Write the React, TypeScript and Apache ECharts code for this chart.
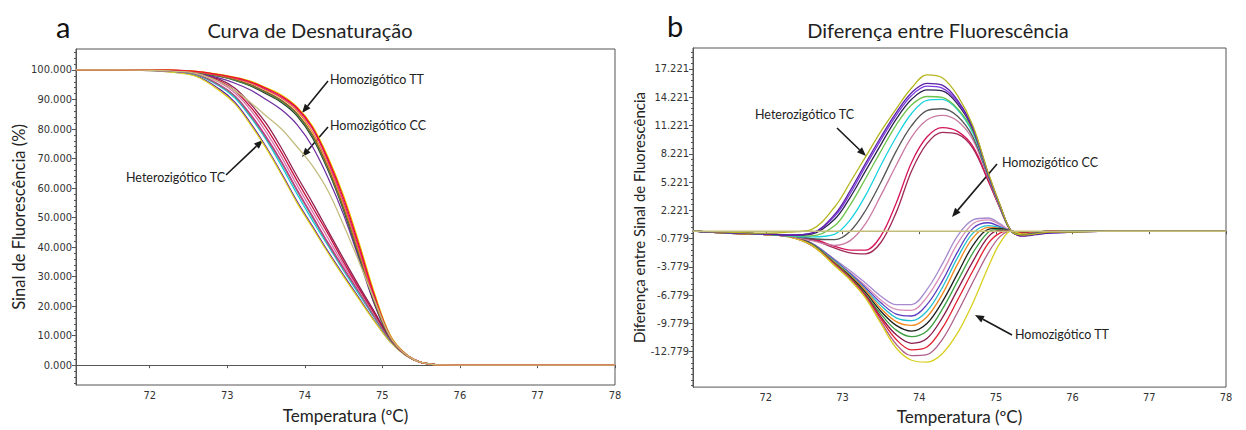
import React, { useEffect, useRef } from "react";
import * as echarts from "echarts";

// ---------- axis ticks ----------
const X_TICKS = [72, 73, 74, 75, 76, 77, 78];
const LEFT_Y_TICKS = [0, 10, 20, 30, 40, 50, 60, 70, 80, 90, 100];
const RIGHT_Y_TICKS = [17.221, 14.221, 11.221, 8.221, 5.221, 2.221, -0.779, -3.779, -6.779, -9.779, -12.779];

// ---------- panel a: melting curves (Sinal de Fluorescência %) ----------
const TEMPS_A = [71.05, 71.6, 72.0, 72.3, 72.6, 72.9, 73.1, 73.3, 73.5, 73.7, 73.9, 74.1, 74.3, 74.5, 74.7, 74.9, 75.1, 75.3, 75.5, 75.8, 76.5, 78.0];

const HET_1 = [100, 100, 99.8, 99.3, 98.0, 93.5, 89.0, 82.0, 74.0, 65.0, 55.5, 47.0, 38.5, 30.5, 22.7, 15.0, 8.0, 3.4, 0.9, 0.1, 0, 0];
const HET_2 = [100, 100, 99.8, 99.2, 97.8, 93.0, 88.5, 81.5, 73.5, 64.5, 55.0, 46.5, 38.0, 30.0, 22.3, 14.8, 7.9, 3.3, 0.9, 0.1, 0, 0];
const HET_3 = [100, 100, 99.9, 99.5, 98.4, 94.5, 90.5, 84.0, 76.5, 67.5, 58.0, 49.0, 40.5, 32.0, 24.0, 16.0, 8.4, 3.5, 1.0, 0.1, 0, 0];
const HET_4 = [100, 100, 99.9, 99.6, 98.6, 95.0, 91.2, 85.0, 77.5, 69.0, 59.5, 50.5, 41.5, 33.0, 24.8, 16.5, 8.6, 3.5, 1.0, 0.1, 0, 0];
const HET_5 = [100, 100, 99.9, 99.6, 98.8, 95.8, 92.2, 86.5, 79.0, 70.5, 61.0, 52.0, 43.0, 34.0, 25.5, 17.0, 8.8, 3.6, 1.0, 0.1, 0, 0];
const HET_6 = [100, 100, 99.9, 99.7, 99.0, 96.3, 93.0, 87.5, 80.5, 72.0, 62.5, 53.5, 44.5, 35.0, 26.0, 17.5, 9.0, 3.6, 1.0, 0.1, 0, 0];
const HET_7 = [100, 100, 99.9, 99.7, 99.1, 96.8, 93.8, 88.5, 82.0, 73.5, 64.0, 55.0, 45.5, 36.0, 26.8, 18.0, 9.2, 3.7, 1.0, 0.1, 0, 0];
const HET_8 = [100, 100, 99.9, 99.6, 98.5, 94.8, 91.0, 84.5, 77.0, 68.5, 59.0, 50.0, 41.0, 32.5, 24.5, 16.2, 8.5, 3.5, 1.0, 0.1, 0, 0];

const TT_1 = [100, 100, 100, 99.9, 99.5, 98.4, 97.4, 96.0, 93.8, 91.2, 87.2, 80.5, 69.8, 56.6, 40.5, 23.5, 10.0, 3.8, 1.0, 0.1, 0, 0];
const TT_2 = [100, 100, 100, 99.9, 99.4, 98.2, 97.1, 95.5, 93.2, 90.4, 86.2, 79.0, 68.0, 54.5, 38.5, 22.0, 9.6, 3.7, 1.0, 0.1, 0, 0];
const TT_3 = [100, 100, 100, 99.9, 99.5, 98.5, 97.5, 96.2, 94.0, 91.5, 87.5, 81.0, 70.5, 57.5, 41.5, 24.3, 10.3, 3.9, 1.0, 0.1, 0, 0];
const TT_4 = [100, 100, 100, 99.8, 99.2, 97.8, 96.5, 94.6, 92.0, 89.0, 84.5, 77.0, 66.0, 52.5, 37.0, 21.0, 9.3, 3.7, 1.0, 0.1, 0, 0];
const TT_5 = [100, 100, 100, 99.8, 99.3, 98.0, 96.8, 95.0, 92.6, 89.7, 85.3, 78.0, 67.0, 53.5, 37.8, 21.5, 9.5, 3.7, 1.0, 0.1, 0, 0];
const TT_6 = [100, 100, 99.9, 99.7, 99.0, 97.2, 95.5, 93.2, 90.0, 86.5, 81.5, 74.0, 63.5, 51.0, 36.0, 20.5, 9.2, 3.6, 1.0, 0.1, 0, 0];
const TT_7 = [100, 100, 100, 99.9, 99.4, 98.3, 97.2, 95.8, 93.5, 90.8, 86.8, 80.0, 69.0, 55.5, 39.5, 22.8, 9.8, 3.8, 1.0, 0.1, 0, 0];
const TT_8 = [100, 100, 100, 99.8, 99.3, 97.9, 96.6, 94.8, 92.3, 89.3, 84.9, 77.5, 66.5, 53.0, 37.4, 21.3, 9.4, 3.7, 1.0, 0.1, 0, 0];

const CC_1 = [100, 100, 99.9, 99.6, 98.8, 96.0, 93.0, 89.0, 84.5, 80.0, 74.0, 67.5, 59.0, 47.5, 35.0, 22.0, 9.8, 3.7, 1.0, 0.1, 0, 0];

const SERIES_A = [HET_1, HET_2, HET_3, HET_4, HET_5, HET_6, HET_7, HET_8, TT_6, TT_4, TT_8, TT_5, TT_2, TT_7, TT_3, TT_1, CC_1];
const COLORS_A = [
  "#5b1fa8", "#e0d020", "#10d0dc", "#e0108a", "#d478aa", "#c81040", "#902050", "#8a6f7c",
  "#7030a0", "#2b2b2b", "#3f9f4a", "#8b5a2b", "#f08a20", "#e0208a", "#e8d400", "#e8102a",
  "#c4bd80",
];

// ---------- panel b: difference curves ----------
const TEMPS_B = [71.05, 71.5, 72.0, 72.3, 72.6, 72.9, 73.1, 73.3, 73.5, 73.7, 73.9, 74.1, 74.3, 74.5, 74.7, 74.9, 75.05, 75.2, 75.35, 75.5, 75.7, 76.0, 76.5, 77.0, 77.5, 78.0];

const POS_1 = [0, -0.1, -0.2, -0.1, 0.2, 2.6, 5.2, 7.9, 10.6, 13.0, 15.2, 16.6, 16.3, 14.4, 11.2, 6.2, 2.9, 0, -0.4, -0.3, -0.1, -0.1, 0, 0, 0, 0];
const POS_2 = [0, -0.15, -0.3, -0.4, -0.2, 1.8, 4.3, 7.2, 10.0, 12.6, 14.7, 15.7, 15.5, 13.9, 11.0, 6.1, 2.8, 0, -0.5, -0.4, -0.2, -0.1, 0, 0, 0, 0];
const POS_3 = [0, -0.15, -0.3, -0.4, -0.2, 1.6, 4.0, 6.9, 9.7, 12.3, 14.4, 15.4, 15.2, 13.7, 10.9, 6.0, 2.8, 0, -0.5, -0.3, -0.2, -0.1, 0, 0, 0, 0];
const POS_4 = [0, -0.15, -0.3, -0.45, -0.3, 1.3, 3.6, 6.4, 9.2, 11.9, 14.0, 15.0, 14.9, 13.5, 10.8, 6.0, 2.8, 0, -0.4, -0.3, -0.1, 0, 0, 0, 0, 0];
const POS_5 = [0, -0.15, -0.3, -0.5, -0.5, 0.6, 2.8, 5.6, 8.5, 11.3, 13.4, 14.3, 14.2, 13.0, 10.6, 5.9, 2.7, 0, -0.4, -0.3, -0.1, 0, 0, 0, 0, 0];
const POS_6 = [0, -0.15, -0.3, -0.5, -0.6, -0.3, 1.2, 3.8, 7.0, 10.0, 12.5, 13.9, 14.0, 12.9, 10.4, 5.9, 2.7, 0, -0.4, -0.3, -0.1, 0, 0, 0, 0, 0];
const POS_7 = [0, -0.15, -0.3, -0.5, -0.8, -0.9, 0.0, 2.2, 5.2, 8.5, 11.2, 12.8, 13.0, 12.2, 10.0, 5.8, 2.7, 0, -0.4, -0.2, -0.1, 0, 0, 0, 0, 0];
const POS_8 = [0, -0.15, -0.3, -0.55, -1.0, -1.5, -1.0, 0.8, 3.8, 7.0, 10.0, 11.8, 12.3, 11.7, 9.7, 5.7, 2.6, 0, -0.4, -0.2, -0.1, 0, 0, 0, 0, 0];
const POS_9 = [0, -0.15, -0.3, -0.55, -0.8, -1.6, -2.0, -2.0, -0.5, 3.0, 7.3, 10.0, 11.0, 10.6, 9.0, 5.4, 2.5, 0, -0.5, -0.3, -0.1, 0, 0, 0, 0, 0];
const POS_10 = [0, -0.15, -0.3, -0.55, -0.9, -1.8, -2.3, -2.4, -1.2, 2.0, 6.4, 9.3, 10.5, 10.3, 8.8, 5.3, 2.5, 0, -0.5, -0.3, -0.1, 0, 0, 0, 0, 0];

const NEG_1 = [0, -0.2, -0.3, -0.5, -1.3, -3.0, -4.2, -5.5, -6.9, -7.8, -7.8, -6.2, -3.5, -0.5, 1.2, 1.4, 0.8, 0, -0.2, -0.1, 0, 0, 0, 0, 0, 0];
const NEG_2 = [0, -0.2, -0.3, -0.5, -1.3, -3.1, -4.4, -5.8, -7.3, -8.3, -8.4, -7.0, -4.4, -1.3, 0.8, 1.2, 0.7, 0, -0.2, -0.1, 0, 0, 0, 0, 0, 0];
const NEG_3 = [0, -0.2, -0.3, -0.5, -1.3, -3.1, -4.5, -6.0, -7.6, -8.8, -9.0, -7.8, -5.3, -2.2, 0.3, 0.9, 0.5, 0, -0.2, -0.1, 0, 0, 0, 0, 0, 0];
const NEG_4 = [0, -0.2, -0.3, -0.5, -1.4, -3.2, -4.6, -6.2, -7.9, -9.2, -9.5, -8.5, -6.0, -2.8, -0.2, 0.6, 0.4, 0, -0.2, -0.1, 0, 0, 0, 0, 0, 0];
const NEG_5 = [0, -0.2, -0.3, -0.5, -1.4, -3.3, -4.7, -6.3, -8.2, -9.6, -10.0, -9.1, -6.7, -3.5, -0.7, 0.4, 0.3, 0, -0.2, -0.1, 0, 0, 0, 0, 0, 0];
const NEG_6 = [0, -0.2, -0.35, -0.5, -1.4, -3.4, -4.8, -6.5, -8.5, -10.0, -10.6, -9.8, -7.5, -4.5, -1.5, 0.2, 0.3, 0, -0.2, -0.1, 0, 0, 0, 0, 0, 0];
const NEG_7 = [0, -0.2, -0.35, -0.55, -1.4, -3.4, -4.9, -6.7, -8.8, -10.5, -11.2, -10.6, -8.3, -5.3, -2.3, -0.1, 0.2, 0, -0.2, -0.1, 0, 0, 0, 0, 0, 0];
const NEG_8 = [0, -0.2, -0.35, -0.55, -1.5, -3.5, -5.0, -6.8, -9.1, -11.0, -11.9, -11.4, -9.2, -6.2, -3.2, -0.6, 0.1, 0, -0.2, -0.1, 0, 0, 0, 0, 0, 0];
const NEG_9 = [0, -0.2, -0.35, -0.55, -1.5, -3.5, -5.0, -6.9, -9.3, -11.5, -12.6, -12.3, -10.3, -7.3, -4.2, -1.3, -0.2, 0, -0.2, -0.1, 0, 0, 0, 0, 0, 0];
const NEG_10 = [0, -0.2, -0.35, -0.6, -1.5, -3.6, -5.1, -7.0, -9.6, -12.0, -13.2, -13.1, -11.5, -8.6, -5.4, -2.3, -0.6, 0, -0.3, -0.2, -0.1, 0, 0, 0, 0, 0];
const NEG_11 = [0, -0.2, -0.35, -0.6, -1.5, -3.7, -5.2, -7.1, -9.8, -12.4, -13.7, -13.9, -13.0, -10.8, -7.6, -3.8, -1.3, 0, -0.3, -0.2, -0.1, 0, 0, 0, 0, 0];

const REF_TEMPS = [71.05, 78.0];
const REF_DIFF = [0, 0];

const SERIES_B = [
  NEG_1, NEG_2, NEG_3, NEG_4, NEG_5, NEG_6, NEG_7, NEG_8, NEG_9, NEG_10, NEG_11,
  POS_10, POS_9, POS_8, POS_7, POS_6, POS_5, POS_4, POS_3, POS_2, POS_1,
];
const COLORS_B = [
  "#a58ad0", "#d890b8", "#5a3cc0", "#20c0d0", "#f08a20", "#1e1e1e", "#3da043", "#8a1c4a", "#e02030", "#b0608a", "#d8cf1c",
  "#9e2a55", "#d4145a", "#c97aa3", "#555555", "#19d3e0", "#6cc24a", "#2b2250", "#7d3ce0", "#5b1fa8", "#b5b51e",
];

// ---------- helpers ----------
const NARROW = "'Liberation Sans Narrow', 'Arial Narrow', 'DejaVu Sans Condensed', sans-serif";
const HUMAN = "Lato, 'Open Sans', sans-serif";

const pairs = (xs: number[], ys: number[]) => xs.map((x, i) => [x, ys[i]]);

function minorTicks(majors: number[], step: number, min: number, max: number) {
  const base = majors[0];
  const out: number[] = [];
  const kMin = Math.ceil((min - base) / step);
  const kMax = Math.floor((max - base) / step);
  for (let k = kMin; k <= kMax; k++) out.push(+(base + k * step).toFixed(4));
  return out;
}

function arrow(x1: number, y1: number, x2: number, y2: number) {
  const ang = Math.atan2(y2 - y1, x2 - x1);
  const L = 9, W = 3.6;
  const bx = x2 - L * Math.cos(ang), by = y2 - L * Math.sin(ang);
  const px = -Math.sin(ang) * W, py = Math.cos(ang) * W;
  return [
    { type: "line", shape: { x1, y1, x2: bx, y2: by }, style: { stroke: "#1a1a1a", lineWidth: 1.6 }, silent: true },
    {
      type: "polygon",
      shape: { points: [[x2, y2], [bx + px, by + py], [bx - px, by - py]] },
      style: { fill: "#1a1a1a" },
      silent: true,
    },
  ];
}

function label(text: string, x: number, y: number, size = 12.5, extra: any = {}) {
  return {
    type: "text",
    x,
    y,
    style: { text, font: `${size}px ${HUMAN}`, fill: "#222", verticalAlign: "middle", align: "left", ...extra },
    silent: true,
  };
}

export default function App() {
  const ref = useRef<HTMLDivElement>(null);

  useEffect(() => {
    if (!ref.current) return;
    const chart = echarts.init(ref.current, null, { renderer: "svg" });

    const A_MIN = -6.7, A_MAX = 107.1;
    const B_MIN = -16.55, B_MAX = 19.45;
    const X_MIN = 71.05, X_MAX = 78.0;

    const axisLineStyle = { color: "#555", width: 1 };
    const tickLabel = { fontFamily: NARROW, fontSize: 11, color: "#333" };
    const nameStyle = (size: number) => ({ fontFamily: HUMAN, fontSize: size, color: "#222" });

    const xAxisBase = (gridIndex: number, gap: number) => ({
      type: "value",
      gridIndex,
      min: X_MIN,
      max: X_MAX,
      name: "Temperatura (ºC)",
      nameLocation: "middle",
      nameGap: gap,
      nameTextStyle: nameStyle(17),
      axisLine: { show: true, lineStyle: axisLineStyle },
      axisTick: { show: true, inside: false, length: 3, lineStyle: axisLineStyle, customValues: X_TICKS },
      axisLabel: { ...tickLabel, margin: 5, customValues: X_TICKS, formatter: (v: number) => String(Math.round(v)) },
      splitLine: { show: false },
    });

    const yMain = (gridIndex: number, min: number, max: number, ticks: number[], name: string, gap: number, size: number) => ({
      type: "value",
      gridIndex,
      min,
      max,
      name,
      nameLocation: "middle",
      nameGap: gap,
      nameTextStyle: nameStyle(size),
      axisLine: { show: true, lineStyle: axisLineStyle },
      axisTick: { show: true, inside: false, length: 4, lineStyle: axisLineStyle, customValues: ticks },
      axisLabel: { ...tickLabel, margin: 4, customValues: ticks, formatter: (v: number) => v.toFixed(3) },
      splitLine: { show: false },
    });

    const yMinor = (gridIndex: number, min: number, max: number, ticks: number[]) => ({
      type: "value",
      gridIndex,
      min,
      max,
      position: "left",
      axisLine: { show: false },
      axisTick: { show: true, inside: false, length: 2, lineStyle: axisLineStyle, customValues: ticks },
      axisLabel: { show: false },
      splitLine: { show: false },
    });

    const line = (data: number[][], color: string, xi: number, yi: number, width = 1.3) => ({
      type: "line",
      xAxisIndex: xi,
      yAxisIndex: yi,
      data,
      symbol: "none",
      showSymbol: false,
      smooth: 0.35,
      silent: true,
      lineStyle: { width, color },
      emphasis: { disabled: true },
    });

    const series: any[] = [];
    SERIES_A.forEach((vals, i) => series.push(line(pairs(TEMPS_A, vals), COLORS_A[i], 0, 0)));
    SERIES_B.forEach((vals, i) => series.push(line(pairs(TEMPS_B, vals), COLORS_B[i], 1, 2)));
    series.push(line(pairs(REF_TEMPS, REF_DIFF), "#c2bd78", 1, 2, 1.6));

    const graphic: any[] = [
      { type: "text", x: 56, y: 12, style: { text: "a", font: `29px ${HUMAN}`, fill: "#111", verticalAlign: "top" }, silent: true },
      { type: "text", x: 667, y: 11, style: { text: "b", font: `29px ${HUMAN}`, fill: "#111", verticalAlign: "top" }, silent: true },
      label("Curva de Desnaturação", 310, 30, 20, { align: "center" }),
      label("Diferença entre Fluorescência", 938, 30, 20, { align: "center" }),
      // panel a annotations
      label("Homozigótico TT", 330, 79),
      ...arrow(328, 81, 302, 113),
      label("Homozigótico CC", 330, 125),
      ...arrow(328, 127, 302, 157),
      label("Heterozigótico TC", 126, 177),
      ...arrow(226, 175, 263, 140),
      // panel b annotations
      label("Heterozigótico TC", 755, 114),
      ...arrow(837, 128, 866, 156),
      label("Homozigótico CC", 1002, 162),
      ...arrow(997, 164, 952, 217),
      label("Homozigótico TT", 1015, 334),
      ...arrow(1012, 335, 975, 315),
    ];

    chart.setOption({
      animation: false,
      backgroundColor: "#ffffff",
      grid: [
        { left: 76, top: 49, width: 539, height: 336, show: true, borderColor: "#555", borderWidth: 1, backgroundColor: "transparent" },
        { left: 693, top: 48, width: 533, height: 344, show: true, borderColor: "#555", borderWidth: 1, backgroundColor: "transparent" },
      ],
      xAxis: [xAxisBase(0, 22), xAxisBase(1, 15)],
      yAxis: [
        yMain(0, A_MIN, A_MAX, LEFT_Y_TICKS, "Sinal de Fluorescência (%)", 42, 16.5),
        yMinor(0, A_MIN, A_MAX, minorTicks(LEFT_Y_TICKS, 2, A_MIN, A_MAX)),
        yMain(1, B_MIN, B_MAX, RIGHT_Y_TICKS, "Diferença entre Sinal de Fluorescência", 39, 15),
        yMinor(1, B_MIN, B_MAX, minorTicks(RIGHT_Y_TICKS, 0.6, B_MIN, B_MAX)),
      ],
      series,
      graphic,
    } as any);

    return () => chart.dispose();
  }, []);

  return (
    <div
      ref={ref}
      style={{ position: "absolute", left: 0, top: 0, width: 1246, height: 430, background: "#fff" }}
    />
  );
}
